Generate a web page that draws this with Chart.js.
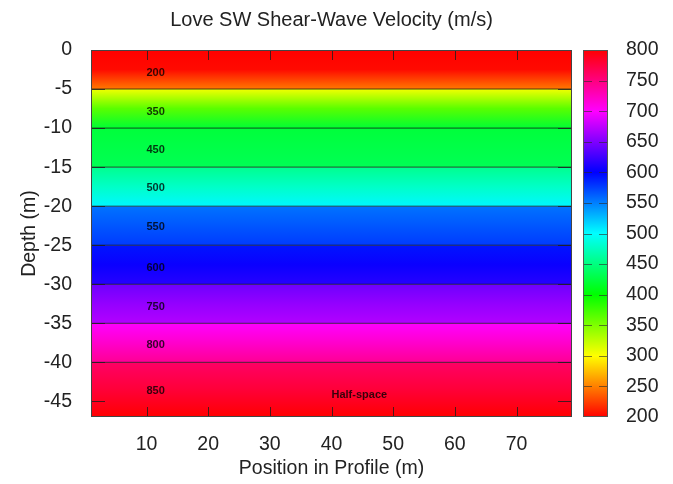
<!DOCTYPE html>
<html>
<head>
<meta charset="utf-8">
<title>Love SW Shear-Wave Velocity</title>
<script src="https://cdn.jsdelivr.net/npm/chart.js@4.4.1/dist/chart.umd.min.js"></script>
<style>
  html, body { margin: 0; padding: 0; background: #fff; }
  #wrap { width: 673px; height: 484px; }
</style>
</head>
<body>
<div id="wrap"><canvas id="vsChart"></canvas></div>
<script>
// layer model (depths in m, velocities in m/s)
var layerTop    = [0, -5, -10, -15, -20, -25, -30, -35, -40];
var layerBottom = [-5, -10, -15, -20, -25, -30, -35, -40, -47];
// colour of each band read top / middle / bottom (as velocity on the colour bar)
var velTop    = [200, 305, 423, 456, 555, 592, 643, 700, 760];
var velMid    = [204, 365, 428, 478, 566, 604, 658, 720, 778];
var velBottom = [247, 420, 433, 503, 577, 615, 670, 742, 800];
// text written in each layer
var layerLabels = ['200', '350', '450', '500', '550', '600', '750', '800', '850'];
var labelDepth  = [-3, -8, -12.8, -17.7, -22.7, -27.9, -32.9, -37.8, -43.7];
var labelPos    = 10;
var halfSpaceText = 'Half-space';
var halfSpacePos = [40, -44.2];

var xMin = 1, xMax = 79;
var xTicks  = [10, 20, 30, 40, 50, 60, 70];
var yTicks  = [0, -5, -10, -15, -20, -25, -30, -35, -40, -45];
var cbMin = 200, cbMax = 800;
var cbTicks = [200, 250, 300, 350, 400, 450, 500, 550, 600, 650, 700, 750, 800];

var FONT = "'Liberation Sans', Arial, Helvetica, sans-serif";

// rainbow colour map: 200 red -> 300 yellow -> 400 green -> 500 cyan -> 600 blue -> 700 magenta -> 800 red
function velColor(v) {
  var h = (v - cbMin) / (cbMax - cbMin) * 360;
  return 'hsl(' + h.toFixed(1) + ',100%,50%)';
}

var datasets = [];
for (var i = 0; i < layerTop.length; i++) {
  (function (i) {
    datasets.push({
      label: layerLabels[i],
      data: [{x: xMin, y: layerTop[i]}, {x: xMax, y: layerTop[i]}],
      borderColor: 'rgba(20,20,20,0.75)',
      borderWidth: 1,
      pointRadius: 0,
      fill: {value: layerBottom[i]},
      backgroundColor: function (ctx) {
        var chart = ctx.chart;
        if (!chart.chartArea) return velColor(velMid[i]);
        var ys = chart.scales.y;
        var g = chart.ctx.createLinearGradient(0, ys.getPixelForValue(layerTop[i]), 0, ys.getPixelForValue(layerBottom[i]));
        g.addColorStop(0, velColor(velTop[i]));
        g.addColorStop(0.5, velColor(velMid[i]));
        g.addColorStop(1, velColor(velBottom[i]));
        return g;
      }
    });
  })(i);
}

var decorations = {
  id: 'decorations',
  afterDatasetsDraw: function (chart) {
    var c = chart.ctx, ca = chart.chartArea;
    var xs = chart.scales.x, ys = chart.scales.y;
    c.save();
    // inside tick marks (gnuplot style)
    c.strokeStyle = 'rgba(30,30,30,0.8)';
    c.lineWidth = 1;
    c.beginPath();
    yTicks.forEach(function (t) {
      var py = Math.round(ys.getPixelForValue(t)) + 0.5;
      c.moveTo(ca.left, py); c.lineTo(ca.left + 14, py);
      c.moveTo(ca.right, py); c.lineTo(ca.right - 14, py);
    });
    xTicks.forEach(function (t) {
      var px = Math.round(xs.getPixelForValue(t)) + 0.5;
      c.moveTo(px, ca.top); c.lineTo(px, ca.top + 10);
      c.moveTo(px, ca.bottom); c.lineTo(px, ca.bottom - 10);
    });
    c.stroke();
    // frame
    c.strokeStyle = '#444';
    c.strokeRect(ca.left + 0.5, ca.top + 0.5, ca.right - ca.left - 1, ca.bottom - ca.top - 1);
    // layer labels
    c.fillStyle = 'rgba(0,0,0,0.78)';
    c.font = "bold 11px " + FONT;
    c.textAlign = 'left';
    c.textBaseline = 'middle';
    for (var i = 0; i < layerLabels.length; i++) {
      c.fillText(layerLabels[i], xs.getPixelForValue(labelPos), ys.getPixelForValue(labelDepth[i]));
    }
    c.fillText(halfSpaceText, xs.getPixelForValue(halfSpacePos[0]), ys.getPixelForValue(halfSpacePos[1]));
    c.restore();
  },
  afterDraw: function (chart) {
    // colour bar, placed on the right axis
    var c = chart.ctx, ca = chart.chartArea, cb = chart.scales.cb;
    var x0 = ca.right + 11, w = 25;
    var yTop = cb.getPixelForValue(cbMax), yBot = cb.getPixelForValue(cbMin);
    var g = c.createLinearGradient(0, yBot, 0, yTop);
    for (var v = cbMin; v <= cbMax; v += 10) {
      g.addColorStop((v - cbMin) / (cbMax - cbMin), velColor(v));
    }
    c.save();
    c.fillStyle = g;
    c.fillRect(x0, yTop, w, yBot - yTop);
    c.strokeStyle = 'rgba(40,40,40,0.6)';
    c.lineWidth = 1;
    c.beginPath();
    cbTicks.forEach(function (t) {
      if (t === cbMin || t === cbMax) return;
      var py = Math.round(cb.getPixelForValue(t)) + 0.5;
      c.moveTo(x0, py); c.lineTo(x0 + 9, py);
      c.moveTo(x0 + w, py); c.lineTo(x0 + w - 9, py);
    });
    c.stroke();
    c.strokeStyle = '#555';
    c.strokeRect(x0 + 0.5, yTop + 0.5, w - 1, yBot - yTop - 1);
    c.restore();
  }
};

new Chart(document.getElementById('vsChart'), {
  type: 'line',
  data: {datasets: datasets},
  options: {
    responsive: true,
    maintainAspectRatio: false,
    animation: false,
    layout: {padding: 0},
    plugins: {
      legend: {display: false},
      tooltip: {enabled: false},
      filler: {drawTime: 'beforeDatasetsDraw'},
      title: {
        display: true,
        fullSize: false,
        text: 'Love SW Shear-Wave Velocity (m/s)',
        color: '#222',
        font: {family: FONT, size: 20, weight: 'normal', lineHeight: 1.2},
        padding: {top: 8.5, bottom: 17.5}
      }
    },
    scales: {
      x: {
        type: 'linear',
        min: xMin,
        max: xMax,
        afterBuildTicks: function (s) { s.ticks = xTicks.map(function (v) { return {value: v}; }); },
        afterFit: function (s) { s.height = 67; },
        grid: {display: false, drawTicks: true, tickLength: 16},
        border: {display: false},
        ticks: {color: '#222', font: {family: FONT, size: 19.5}, padding: 0, maxRotation: 0},
        title: {display: true, text: 'Position in Profile (m)', color: '#222',
                font: {family: FONT, size: 19.5}, padding: {top: 0, bottom: 4}}
      },
      y: {
        type: 'linear',
        position: 'left',
        min: -47,
        max: 0,
        afterBuildTicks: function (s) { s.ticks = yTicks.map(function (v) { return {value: v}; }); },
        afterFit: function (s) { s.width = 91; },
        grid: {display: false, drawTicks: true, tickLength: 19},
        border: {display: false},
        ticks: {color: '#222', font: {family: FONT, size: 19.5}, padding: 0},
        title: {display: true, text: 'Depth (m)', color: '#222',
                font: {family: FONT, size: 19.5}, padding: {top: 18, bottom: 0}}
      },
      cb: {
        type: 'linear',
        position: 'right',
        min: cbMin,
        max: cbMax,
        afterBuildTicks: function (s) { s.ticks = cbTicks.map(function (v) { return {value: v}; }); },
        afterFit: function (s) { s.width = 101; },
        grid: {display: false, drawTicks: true, tickLength: 54},
        border: {display: false},
        ticks: {color: '#222', font: {family: FONT, size: 19.5}, padding: 0}
      }
    }
  },
  plugins: [decorations]
});
</script>
</body>
</html>
